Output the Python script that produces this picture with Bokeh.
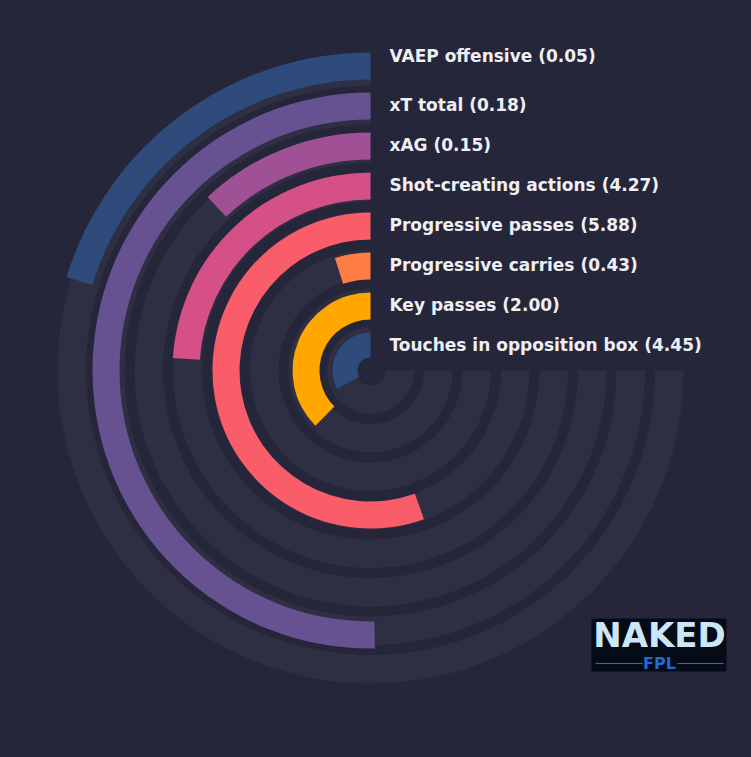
import numpy as np
from bokeh.plotting import figure
from bokeh.models import Range1d, ColumnDataSource
from bokeh.core.properties import value
from bokeh.embed import file_html
from bokeh.resources import INLINE

# ---- data (outermost ring first) ----
metrics = ["VAEP offensive", "xT total", "xAG", "Shot-creating actions",
           "Progressive passes", "Progressive carries", "Key passes",
           "Touches in opposition box"]
values = [0.05, 0.18, 0.15, 4.27, 5.88, 0.43, 2.00, 4.45]
percentiles = [27, 67, 16, 32, 74, 6.5, 50, 44]
colors = ["#2f4b7c", "#665191", "#a05195", "#d45087",
          "#f95d6a", "#ff7c43", "#ffa600", "#2f4b7c"]

BG = "#25263a"
TRACK = "#2e2f43"
TEXT = "#eeeef3"

n = len(metrics)
ring = np.array([n - 1 - i for i in range(n)])  # 0 = innermost

bar_in = 11 + 40 * ring
bar_out = bar_in + 27
track_in = 15 + 38.5 * ring
track_out = track_in + 28.5

start = np.full(n, np.pi / 2)
bar_end = start + np.array(percentiles) / 100.0 * 1.5 * np.pi

labels = [f"{m} ({v:.2f})" for m, v in zip(metrics, values)]
label_y = (bar_in + bar_out) / 2 + 1.5
label_y[0] += 9

src = ColumnDataSource(dict(track_in=track_in, track_out=track_out,
                            bar_in=bar_in, bar_out=bar_out,
                            start=start, bar_end=bar_end,
                            track_end=np.full(n, 2 * np.pi),
                            color=colors, label=labels,
                            lx=np.full(n, 19.0), ly=label_y))

W, H = 751, 757
CX, CY = 370, 370
p = figure(width=W, height=H, x_range=Range1d(-CX, W - CX),
           y_range=Range1d(CY - H, CY), output_backend="svg",
           toolbar_location=None, x_axis_type=None, y_axis_type=None,
           min_border=0, background_fill_color=BG, border_fill_color=BG,
           outline_line_color=None)
p.grid.visible = False

p.annular_wedge(x=0, y=0, inner_radius="track_in", outer_radius="track_out",
                start_angle="start", end_angle="track_end", direction="anticlock",
                fill_color=TRACK, line_color=None, source=src)
p.annular_wedge(x=0, y=0, inner_radius="bar_in", outer_radius="bar_out",
                start_angle="start", end_angle="bar_end", direction="anticlock",
                fill_color="color", line_color=None, source=src)
p.circle(x=[0], y=[0], radius=13, fill_color=BG, line_color=None)

p.text(x="lx", y="ly", text="label", source=src, text_color=TEXT,
       text_font=value("DejaVu Sans"), text_font_style="bold",
       text_font_size="17px", text_baseline="middle", text_align="left")

# ---- logo (NAKED FPL) ----
p.quad(left=[221], right=[356], top=[-248], bottom=[-301],
       fill_color="#060b18", line_color=None)
p.text(x=[289], y=[-264], text=["NAKED"], text_color="#cde6f4",
       text_font=value("DejaVu Sans"), text_font_style="bold",
       text_font_size="34px", text_baseline="middle", text_align="center")
p.text(x=[289], y=[-293], text=["FPL"], text_color="#2169d3",
       text_font=value("DejaVu Sans"), text_font_style="bold",
       text_font_size="16px", text_baseline="middle", text_align="center")
p.segment(x0=[225, 307], y0=[-293, -293], x1=[272, 353], y1=[-293, -293],
          line_color="#1f6fd0", line_width=1.2)

html = file_html(p, INLINE)
html = html.replace("</head>",
                    "<style>html,body{margin:0;padding:0;overflow:hidden;"
                    "background:#25263a;}</style></head>", 1)
open("out.html", "w").write(html)
